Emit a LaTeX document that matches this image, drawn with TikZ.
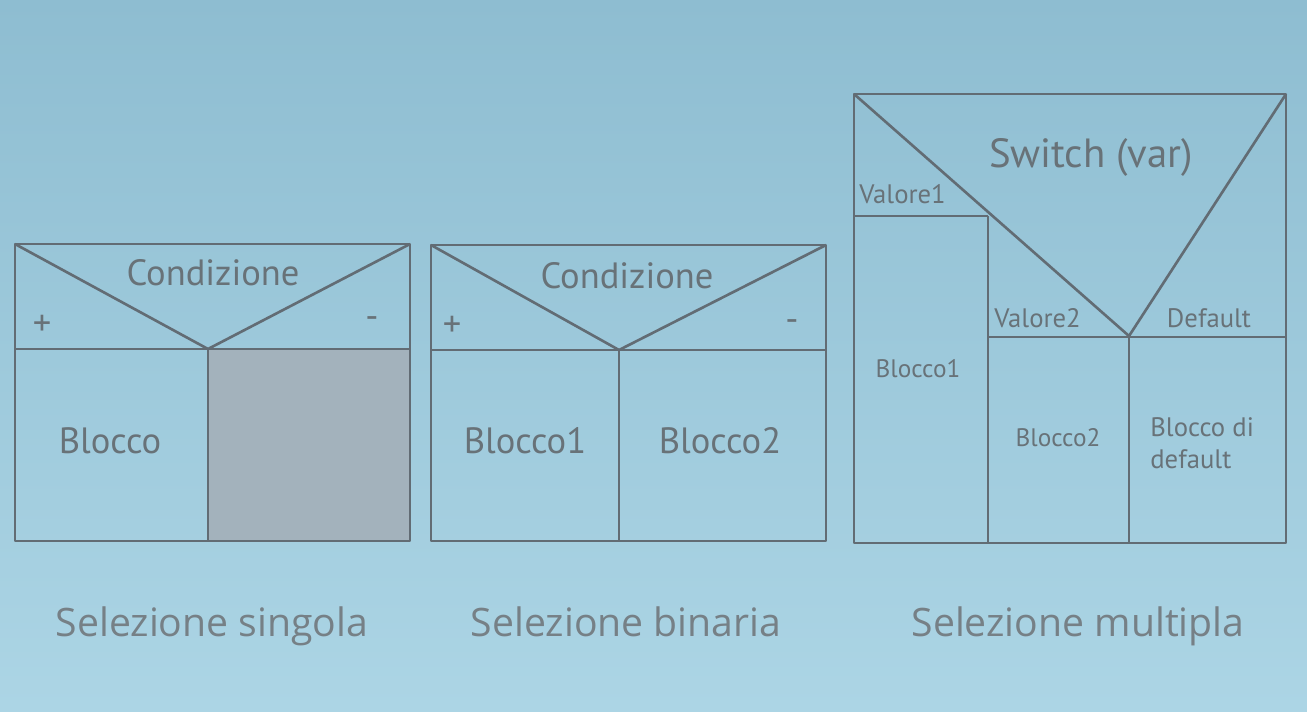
\documentclass[tikz,border=0pt]{standalone}
\usepackage{fontspec}
\setmainfont{PT Sans}
\newfontfamily\capfont{Open Sans}
\definecolor{bgtop}{RGB}{142,189,209}
\definecolor{bgbot}{RGB}{172,213,229}
\definecolor{linec}{RGB}{98,108,116}
\definecolor{textc}{RGB}{104,114,120}
\definecolor{capc}{RGB}{118,128,134}
\definecolor{shadec}{RGB}{163,178,188}
\tikzset{
  nsline/.style={draw=linec, line width=1.5pt, line join=round},
  bigtxt/.style={text=textc, inner sep=0pt, font=\fontsize{20.8}{23}\selectfont},
  midtxt/.style={text=textc, inner sep=0pt, font=\fontsize{15.2}{18}\selectfont},
  captxt/.style={text=capc, inner sep=0pt, anchor=base, font=\capfont\fontsize{22.3}{25}\selectfont},
}
\begin{document}
\begin{tikzpicture}[x=0.02cm,y=-0.02cm]
\shade[top color=bgtop, bottom color=bgbot] (0,0) rectangle (1307,711);
\useasboundingbox (0,0) rectangle (1307,711);

% ---- Box 1: Selezione singola
\coordinate (a1) at (15,244);
\coordinate (a2) at (410,244);
\coordinate (a3) at (410,541);
\coordinate (av) at (208,349);
\fill[shadec] (208,349) rectangle (410,541);
\draw[nsline] (a1) rectangle (a3);
\draw[nsline] (15,349) -- (410,349);
\draw[nsline] (a1) -- (av) -- (a2);
\draw[nsline] (av) -- (208,541);
\node[bigtxt] (c1) at (213,273) {Condizione};
\node[bigtxt] (p1) at (42,325) {+};
\node[bigtxt] (m1) at (372,323) {-};
\node[bigtxt] (b1) at (110,441) {Blocco};

% ---- Box 2: Selezione binaria
\coordinate (b1a) at (431,245);
\coordinate (b2a) at (826,245);
\coordinate (b3a) at (826,541);
\coordinate (bv) at (619,350);
\draw[nsline] (b1a) rectangle (b3a);
\draw[nsline] (431,350) -- (826,350);
\draw[nsline] (b1a) -- (bv) -- (b2a);
\draw[nsline] (bv) -- (619,541);
\node[bigtxt] (c2) at (627,276) {Condizione};
\node[bigtxt] (p2) at (452,326) {+};
\node[bigtxt] (m2) at (792,326) {-};
\node[bigtxt] (bl1) at (525,441) {Blocco1};
\node[bigtxt] (bl2) at (720,441) {Blocco2};

% ---- Box 3: Selezione multipla
\coordinate (c1a) at (854,94);
\coordinate (c2a) at (1286,94);
\coordinate (c3a) at (1286,543);
\coordinate (cv) at (1129,336);
\draw[nsline] (c1a) rectangle (c3a);
\draw[nsline] (c1a) -- (cv) -- (c2a);
\draw[nsline] (854,216) -- (988,216);
\draw[nsline] (988,216) -- (988,543);
\draw[nsline] (988,337) -- (1286,337);
\draw[nsline] (cv) -- (1129,543);
\node[bigtxt, font=\fontsize{23.2}{26}\selectfont] (sw) at (1091,157) {Switch (var)};
\node[midtxt, anchor=west] (v1) at (859,194) {Valore1};
\node[midtxt, anchor=west] (v2) at (994,318) {Valore2};
\node[midtxt] (df) at (1209,318) {Default};
\node[midtxt, font=\fontsize{14.4}{17}\selectfont] (bb1) at (918,369) {Blocco1};
\node[midtxt, font=\fontsize{14.4}{17}\selectfont] (bb2) at (1058,438) {Blocco2};
\node[midtxt, anchor=west, align=left] (bd) at (1150,443) {Blocco di\\default};

% ---- Captions
\node[captxt] (s1) at (212,636) {Selezione singola};
\node[captxt] (s2) at (626,636) {Selezione binaria};
\node[captxt] (s3) at (1078,636) {Selezione multipla};
\end{tikzpicture}
\end{document}
